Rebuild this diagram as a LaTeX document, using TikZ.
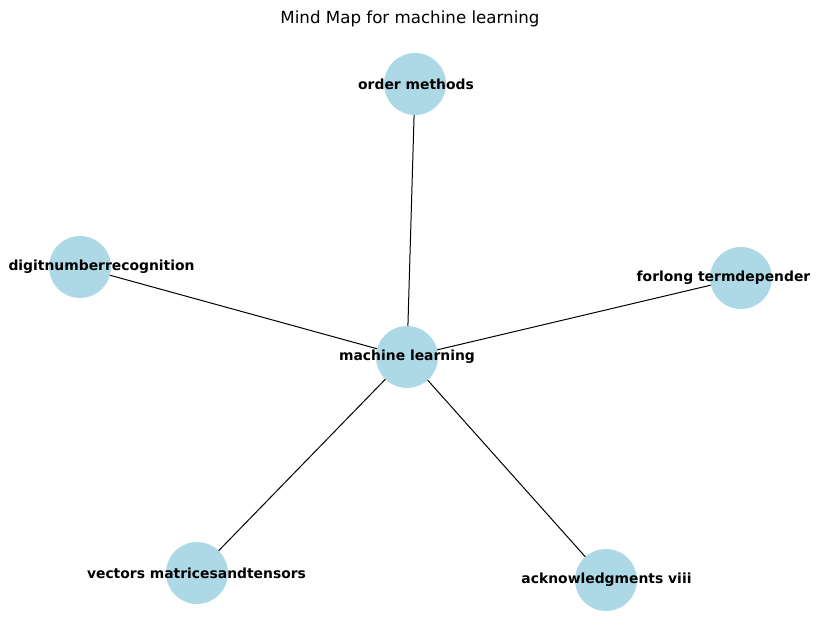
\documentclass[tikz,border=0pt]{standalone}
\usepackage{fontspec}
\setmainfont{DejaVu Sans}
\usetikzlibrary{backgrounds}
\definecolor{nodeblue}{HTML}{ADD8E6}

\begin{document}
\begin{tikzpicture}[x = 0.72pt, y = -0.72pt,
		topic/.style = {circle, fill=nodeblue, minimum size=44.6pt, inner sep=0pt},
		lbl/.style = {font=\bfseries\fontsize{10}{12}\selectfont, inner sep=0pt},
		edge/.style = {draw=black, line width=0.72pt}]

		\useasboundingbox (0,0) rectangle (819,642);

		\node[font=\fontsize{12}{14}\selectfont] (T) at (410,19) {Mind Map for machine learning};

		\node[topic] (ML) at (407,357) {};
		\node[topic] (OM) at (415,84) {};
		\node[topic] (DR) at (80,267) {};
		\node[topic] (FT) at (741,278) {};
		\node[topic] (VM) at (197,573) {};
		\node[topic] (AV) at (606,580) {};

		\node[lbl] (MLt) at (407,357) {machine learning};
		\node[lbl] (OMt) at (416,84) {order methods};
		\node[lbl] (DRt) at (101.5,267) {digitnumberrecognition};
		\node[lbl] (FTt) at (723.5,278) {forlong termdepender};
		\node[lbl] (VMt) at (196.5,573) {vectors matricesandtensors};
		\node[lbl] (AVt) at (606.5,580) {acknowledgments viii};

		\begin{scope}[on background layer]
		\draw[edge] (ML.center) -- (OM.center);
		\draw[edge] (ML.center) -- (DR.center);
		\draw[edge] (ML.center) -- (FT.center);
		\draw[edge] (ML.center) -- (VM.center);
		\draw[edge] (ML.center) -- (AV.center);
		\end{scope}

	\end{tikzpicture}
\end{document}
